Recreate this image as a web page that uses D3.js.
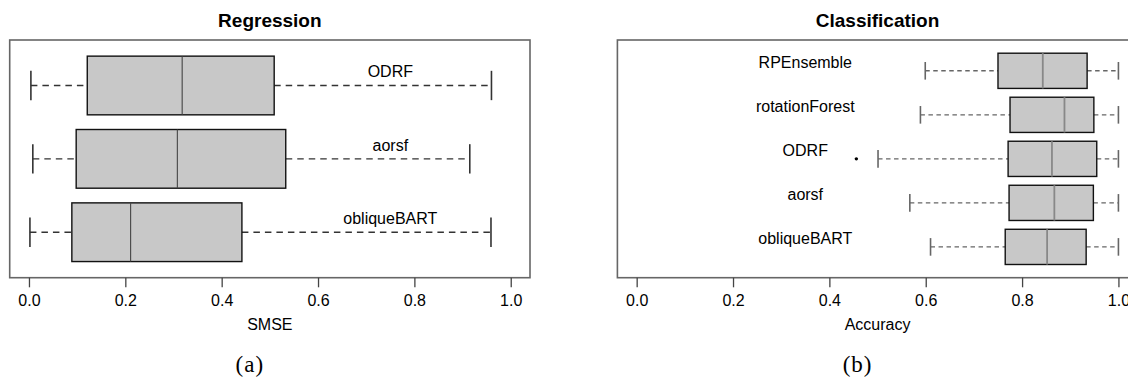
<!DOCTYPE html>
<html>
<head>
<meta charset="utf-8">
<script src="https://cdn.jsdelivr.net/npm/d3@7"></script>
<style>
html,body{margin:0;padding:0;background:#fff;}
svg{display:block;}
text{font-family:"Liberation Sans",Arial,sans-serif;fill:#000;}
</style>
</head>
<body>
<svg id="chart" width="1128" height="377"></svg>
<script>
// ---------- data ----------
const xTicks = [0, 0.2, 0.4, 0.6, 0.8, 1.0];

// Regression (SMSE) – bottom to top
const regCategories = ["obliqueBART", "aorsf", "ODRF"];
const regLow    = [0.002, 0.008, 0.004];
const regQ1     = [0.089, 0.098, 0.121];
const regMedian = [0.211, 0.308, 0.318];
const regQ3     = [0.442, 0.533, 0.509];
const regHigh   = [0.959, 0.915, 0.960];
const regOutliers = [];

// Classification (Accuracy) – bottom to top
const clsCategories = ["obliqueBART", "aorsf", "ODRF", "rotationForest", "RPEnsemble"];
const clsLow    = [0.610, 0.567, 0.501, 0.589, 0.599];
const clsQ1     = [0.765, 0.773, 0.771, 0.775, 0.750];
const clsMedian = [0.852, 0.867, 0.862, 0.888, 0.843];
const clsQ3     = [0.933, 0.948, 0.955, 0.949, 0.935];
const clsHigh   = [1.000, 1.000, 1.000, 1.000, 1.000];
const clsOutliers = [{group: "ODRF", value: 0.456}];

// ---------- drawing ----------
const svg = d3.select("#chart");

function panel(opts) {
  const {left, right, top, bottom, cats, lo, q1, med, q3, hi, outliers,
         title, xlabel, caption, labelX, whiskerColor, medColor, medWidth, dash} = opts;
  const n = cats.length;
  const x = d3.scaleLinear().domain([-0.04, 1.04]).range([left, right]);
  const y = d3.scaleLinear().domain([0.5 - 0.04 * n, n + 0.5 + 0.04 * n]).range([bottom, top]);
  const g = svg.append("g");
  const bw = (y(0) - y(0.8)); // box height
  const cap = bw * 0.5;

  const data = cats.map((c, i) => ({c, pos: i + 1, lo: lo[i], q1: q1[i], med: med[i], q3: q3[i], hi: hi[i]}));

  const grp = g.selectAll("g.box").data(data).enter().append("g");
  // whiskers
  grp.append("line").attr("x1", d => x(d.lo)).attr("x2", d => x(d.q1))
    .attr("y1", d => y(d.pos)).attr("y2", d => y(d.pos))
    .attr("stroke", whiskerColor).attr("stroke-width", 1.4).attr("stroke-dasharray", dash);
  grp.append("line").attr("x1", d => x(d.q3)).attr("x2", d => x(d.hi))
    .attr("y1", d => y(d.pos)).attr("y2", d => y(d.pos))
    .attr("stroke", whiskerColor).attr("stroke-width", 1.4).attr("stroke-dasharray", dash);
  // caps
  ["lo", "hi"].forEach(k => {
    grp.append("line").attr("x1", d => x(d[k])).attr("x2", d => x(d[k]))
      .attr("y1", d => y(d.pos) - cap / 2).attr("y2", d => y(d.pos) + cap / 2)
      .attr("stroke", whiskerColor).attr("stroke-width", 1.6);
  });
  // box
  grp.append("rect").attr("x", d => x(d.q1)).attr("width", d => x(d.q3) - x(d.q1))
    .attr("y", d => y(d.pos) - bw / 2).attr("height", bw)
    .attr("fill", "#c8c8c8").attr("stroke", "#111").attr("stroke-width", 1.4);
  // median
  grp.append("line").attr("x1", d => x(d.med)).attr("x2", d => x(d.med))
    .attr("y1", d => y(d.pos) - bw / 2).attr("y2", d => y(d.pos) + bw / 2)
    .attr("stroke", medColor).attr("stroke-width", medWidth);
  // labels
  grp.append("text").attr("x", x(labelX)).attr("y", d => y(d.pos + 0.19))
    .attr("dy", "0.35em").attr("text-anchor", "middle").attr("font-size", 16)
    .text(d => d.c);
  // outliers
  g.selectAll("circle.out").data(outliers).enter().append("circle")
    .attr("cx", d => x(d.value)).attr("cy", d => y(cats.indexOf(d.group) + 1))
    .attr("r", 1.7).attr("fill", "#000");

  // frame
  g.append("rect").attr("x", left).attr("y", top).attr("width", right - left).attr("height", bottom - top)
    .attr("fill", "none").attr("stroke", "#666").attr("stroke-width", 1.6);

  // axis
  const ax = g.append("g").attr("transform", `translate(0,${bottom})`)
    .call(d3.axisBottom(x).tickValues(xTicks).tickFormat(d3.format(".1f")).tickSize(9.6).tickPadding(7));
  ax.select(".domain").remove();
  ax.selectAll(".tick line").attr("stroke", "#444").attr("stroke-width", 1.3);
  ax.selectAll(".tick text").attr("font-size", 16).attr("fill", "#000")
    .attr("font-family", "'Liberation Sans',Arial,sans-serif");

  const cx = (left + right) / 2;
  g.append("text").attr("x", cx).attr("y", 27.3).attr("text-anchor", "middle")
    .attr("font-size", 19).attr("font-weight", "bold").text(title);
  g.append("text").attr("x", cx).attr("y", 330).attr("text-anchor", "middle")
    .attr("font-size", 16).text(xlabel);
  g.append("text").attr("x", cx - 20).attr("y", 372).attr("text-anchor", "middle")
    .attr("font-size", 23).style("font-family", "'Liberation Serif','Times New Roman',serif")
    .attr("letter-spacing", 1).text(caption);
}

panel({left: 9.7, right: 530, top: 40, bottom: 277.7,
  cats: regCategories, lo: regLow, q1: regQ1, med: regMedian, q3: regQ3, hi: regHigh,
  outliers: regOutliers, title: "Regression", xlabel: "SMSE", caption: "(a)",
  labelX: 0.75, whiskerColor: "#333", medColor: "#444", medWidth: 1.1, dash: "6.5,5"});

panel({left: 617.4, right: 1137.7, top: 40, bottom: 277.7,
  cats: clsCategories, lo: clsLow, q1: clsQ1, med: clsMedian, q3: clsQ3, hi: clsHigh,
  outliers: clsOutliers, title: "Classification", xlabel: "Accuracy", caption: "(b)",
  labelX: 0.35, whiskerColor: "#666", medColor: "#888", medWidth: 1.8, dash: "4.5,3.5"});
</script>
</body>
</html>
